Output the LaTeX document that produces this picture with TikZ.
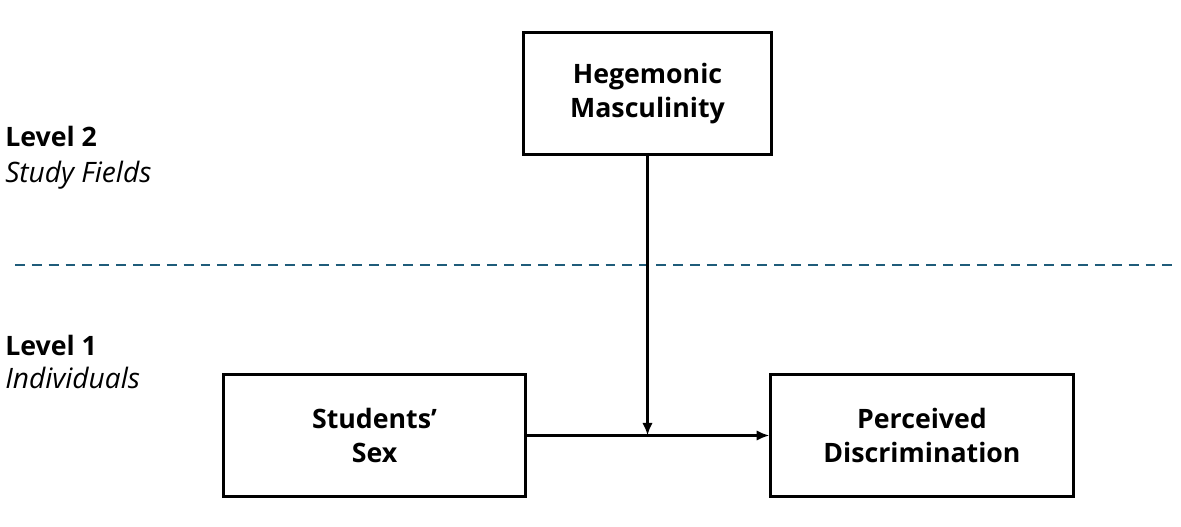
\documentclass[tikz,border=0pt]{standalone}
\usepackage{fontspec}
\setmainfont{Open Sans}
\usetikzlibrary{positioning, arrows.meta}

\definecolor{levelblue}{RGB}{31,92,122}

\tikzset{
  varbox/.style={draw, line width=2.1pt, minimum width=#1, minimum height=87pt,
    align=center, font=\fontsize{19}{24}\selectfont\bfseries, inner sep=0pt},
  levelname/.style={anchor=base west, inner sep=0pt, font=\fontsize{19}{20}\selectfont\bfseries},
  levelsub/.style={anchor=base west, inner sep=0pt, font=\fontsize{20}{20}\selectfont\itshape},
}

\begin{document}
\begin{tikzpicture}[x=0.025cm, y=-0.025cm]
			\useasboundingbox (0,0) rectangle (1181,526);

			\node[varbox=176pt] (HM) at (647.5,93.5) {Hegemonic\\Masculinity};
			\node[varbox=215pt] (SS) at (374.5,435.5) {Students’\\Sex};
			\node[varbox=215pt] (PD) at (922,435.5) {Perceived\\Discrimination};

			\node[levelname] (L2) at (5,146) {Level 2};
			\node[levelsub] (L2sub) at (5,182) {Study Fields};
			\node[levelname] (L1) at (5,355) {Level 1};
			\node[levelsub] (L1sub) at (5,388) {Individuals};

			\coordinate (DL) at (15,265);
			\coordinate (DR) at (1175,265);
			\draw[levelblue, line width=2pt, dash pattern=on 7pt off 5pt] (DL) -- (DR);

			\draw[line width=1.8pt, ->, >={Latex[length=9pt,width=7.5pt]}] (SS.east) -- (PD.west);
			\coordinate (M) at (HM.south |- SS.east);
			\draw[line width=1.8pt, ->, >={Latex[length=9pt,width=7.5pt]}] (HM.south) -- (M);
		\end{tikzpicture}
\end{document}
